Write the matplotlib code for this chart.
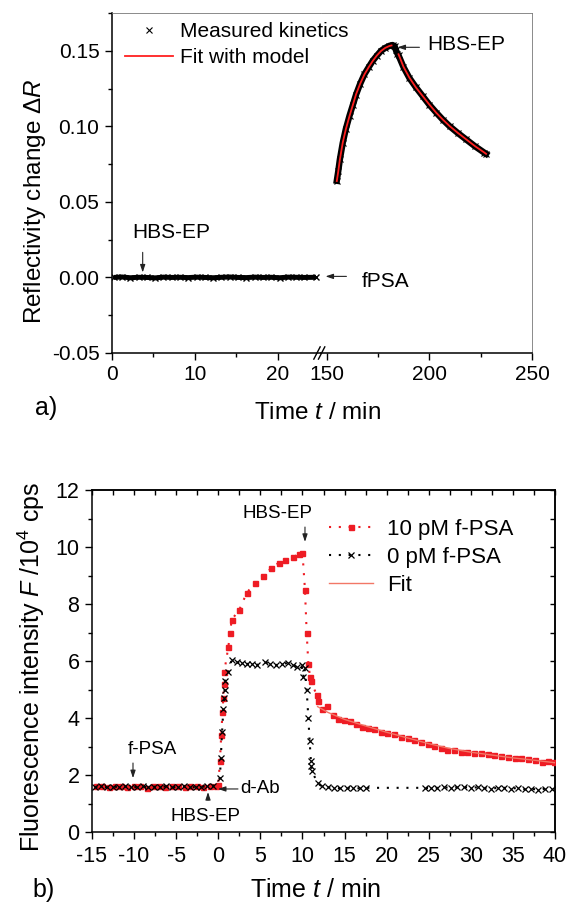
import matplotlib
matplotlib.use("Agg")
import matplotlib.pyplot as plt
from matplotlib.ticker import FixedLocator, MultipleLocator

plt.rcParams["font.family"] = ["Liberation Sans", "DejaVu Sans"]
plt.rcParams["mathtext.fontset"] = "custom"
plt.rcParams["mathtext.rm"] = "Liberation Sans"
plt.rcParams["mathtext.it"] = "Liberation Sans:italic"
plt.rcParams["axes.unicode_minus"] = False

W, H = 568, 905

# ---- panel a: SPR kinetics (time in min, reflectivity change) ----
buffer_t = [0.2, 1.2, 2.2, 3.2, 4.2, 5.2, 6.2, 7.2, 8.2, 9.2, 10.2, 11.2, 12.2,
            13.2, 14.2, 15.2, 16.2, 17.2, 18.2, 19.2, 20.2, 21.2, 22.2, 23.2, 24.6]
buffer_r = [0.0, 0.0003, -0.0002, 0.0001, 0.0, -0.0003, 0.0002, 0.0, 0.0001, -0.0001,
            0.0002, 0.0, -0.0002, 0.0001, 0.0003, 0.0, -0.0001, 0.0002, 0.0, 0.0001,
            -0.0002, 0.0002, 0.0001, 0.0, 0.0001]

kin_t = [154.8, 155.5, 156.3, 157.7, 159.2, 161.0, 162.6, 164.2, 166.2, 168.3, 170.3,
         172.3, 174.3, 176.4, 178.4, 180.5, 182.0, 183.0, 183.6, 184.4, 184.9, 187.3,
         190.2, 193.4, 196.7, 200.0, 203.3, 206.5, 209.8, 213.8, 217.9, 222.3, 226.8, 227.6]
kin_r = [0.0640, 0.0702, 0.0781, 0.0890, 0.0982, 0.1070, 0.1140, 0.1210, 0.1282, 0.1345,
         0.1390, 0.1433, 0.1467, 0.1500, 0.1519, 0.1533, 0.1538, 0.1530, 0.1505, 0.1480,
         0.1470, 0.1393, 0.1320, 0.1258, 0.1200, 0.1142, 0.1091, 0.1044, 0.1001, 0.0956,
         0.0913, 0.0867, 0.0825, 0.0818]

fit_on_t = [154.8, 155.5, 156.3, 157.7, 159.2, 161.0, 162.6, 164.2, 166.2, 168.3,
            170.3, 172.3, 174.3, 176.4, 178.4, 180.5, 181.5]
fit_on_r = [0.0638, 0.0700, 0.0780, 0.0892, 0.0980, 0.1068, 0.1140, 0.1212, 0.1282,
            0.1344, 0.1390, 0.1432, 0.1468, 0.1499, 0.1519, 0.1532, 0.1535]
fit_off_t = [184.9, 187.3, 190.2, 193.4, 196.7, 200.0, 203.3, 206.5, 209.8, 213.8,
             217.9, 222.3, 226.8, 227.6]
fit_off_r = [0.1477, 0.1395, 0.1322, 0.1257, 0.1200, 0.1143, 0.1090, 0.1045, 0.1002,
             0.0957, 0.0914, 0.0868, 0.0826, 0.0818]

# ---- panel b: fluorescence (time in min, F in 10^4 cps) ----
pm10_t = [-14.5, -13.8, -13.0, -12.3, -11.5, -10.8, -10.0, -9.3, -8.5, -7.8, -7.0,
          -6.3, -5.5, -4.8, -4.0, -3.3, -2.5, -1.8, -1.0, -0.3, 0.0, 0.2, 0.35, 0.5,
          0.6, 0.65, 0.7, 1.2, 1.4, 1.6, 2.5, 3.4, 4.4, 5.3, 6.3, 7.2, 7.9, 8.9, 9.6,
          10.0, 10.3, 10.5, 10.7, 10.9, 11.0, 11.7, 11.9, 12.3, 12.9, 13.6, 14.2, 14.9,
          15.6, 16.4, 17.1, 17.8, 18.5, 19.3, 20.1, 20.9, 21.7, 22.5, 23.3, 24.1, 24.9,
          25.6, 26.4, 27.2, 28.0, 28.8, 29.6, 30.4, 31.2, 32.0, 32.8, 33.6, 34.4, 35.2,
          36.0, 36.8, 37.6, 38.4, 39.2, 39.9]
pm10_f = [1.60, 1.62, 1.58, 1.63, 1.60, 1.57, 1.62, 1.60, 1.56, 1.61, 1.63, 1.58,
          1.60, 1.62, 1.57, 1.60, 1.63, 1.59, 1.61, 1.60, 1.65, 2.50, 3.40, 4.20, 4.70,
          5.20, 5.60, 6.50, 7.00, 7.45, 7.80, 8.40, 8.75, 9.00, 9.25, 9.45, 9.55, 9.65,
          9.75, 9.80, 8.50, 7.00, 5.90, 5.45, 5.30, 4.80, 4.60, 4.30, 4.42, 4.10, 3.95,
          3.93, 3.90, 3.78, 3.70, 3.66, 3.62, 3.50, 3.47, 3.44, 3.35, 3.30, 3.22, 3.17,
          3.08, 3.02, 2.95, 2.88, 2.86, 2.81, 2.80, 2.78, 2.77, 2.75, 2.70, 2.65, 2.64,
          2.60, 2.61, 2.55, 2.52, 2.47, 2.48, 2.45]

pm0_t = [-14.6, -13.9, -13.2, -12.5, -11.8, -11.1, -10.4, -9.7, -9.0, -8.3, -7.6,
         -6.9, -6.2, -5.5, -4.8, -4.1, -3.4, -2.7, -2.0, -1.3, -0.6, 0.2, 0.3, 0.45,
         0.6, 0.7, 0.75, 0.8, 1.2, 1.6, 2.2, 2.8, 3.4, 4.0, 4.6, 5.5, 6.2, 6.9, 7.6,
         8.3, 8.9, 9.3, 9.9, 10.1, 10.25, 10.5, 10.7, 10.85, 11.0, 11.05, 11.1, 11.8,
         12.3, 13.0, 13.8, 14.5, 15.3, 16.0, 16.8, 17.6, 24.6, 25.3, 26.0, 26.8, 27.6,
         28.4, 29.2, 30.0, 30.8, 31.6, 32.4, 33.2, 34.0, 34.8, 35.6, 36.4, 37.2, 38.0,
         38.8, 39.6]
pm0_f = [1.58, 1.60, 1.57, 1.59, 1.58, 1.60, 1.57, 1.58, 1.60, 1.57, 1.59, 1.58,
         1.60, 1.57, 1.58, 1.60, 1.58, 1.57, 1.59, 1.60, 1.62, 1.90, 2.60, 3.50, 4.30,
         4.70, 5.00, 5.30, 5.60, 6.05, 5.95, 5.93, 5.90, 5.90, 5.86, 5.96, 5.88, 5.86,
         5.90, 5.93, 5.85, 5.79, 5.85, 5.45, 5.75, 5.00, 4.00, 3.20, 2.50, 2.30, 2.15,
         1.72, 1.60, 1.57, 1.55, 1.53, 1.55, 1.55, 1.53, 1.55, 1.55, 1.53, 1.55, 1.57,
         1.55, 1.57, 1.58, 1.55, 1.57, 1.55, 1.52, 1.55, 1.55, 1.52, 1.55, 1.50, 1.52,
         1.48, 1.52, 1.50]

fit_b_t = [11.8, 13.0, 15.0, 17.5, 20.0, 22.5, 25.0, 27.5, 30.0, 32.5, 35.0, 37.5, 40.0]
fit_b_f = [4.40, 4.20, 3.95, 3.72, 3.50, 3.30, 3.10, 2.93, 2.80, 2.70, 2.60, 2.52, 2.43]

RED = "#ee1c24"
FIT_RED = "#f27766"


def box(left, top, right, bottom):
    return [left / W, 1 - bottom / H, (right - left) / W, (bottom - top) / H]


def fx(px):
    return px / W


def fy(py):
    return 1 - py / H


fig = plt.figure(figsize=(W / 100, H / 100), dpi=100)

# ---------------- panel a ----------------
ax_l = fig.add_axes(box(112, 13, 321, 353))
ax_r = fig.add_axes(box(321, 13, 532, 353), sharey=ax_l)

ax_l.set_xlim(0, 25.2)
ax_r.set_xlim(147.1, 250)
ax_l.set_ylim(-0.05, 0.175)

for ax in (ax_l, ax_r):
    ax.spines["bottom"].set_linewidth(1.1)
    ax.spines["top"].set_linewidth(0.6)
    ax.spines["top"].set_color("#777777")
    ax.tick_params(which="both", direction="out", top=False, right=False,
                   labelsize=15, width=1.0, pad=4)
    ax.tick_params(which="major", length=5)
    ax.tick_params(which="minor", length=3)
ax_l.spines["right"].set_visible(False)
ax_l.spines["left"].set_linewidth(1.1)
ax_r.spines["left"].set_visible(False)
ax_r.spines["right"].set_linewidth(0.6)
ax_r.spines["right"].set_color("#777777")
ax_r.tick_params(axis="y", which="both", left=False, labelleft=False)

ax_l.xaxis.set_major_locator(FixedLocator([0, 10, 20]))
ax_l.xaxis.set_minor_locator(FixedLocator([5, 15]))
ax_r.xaxis.set_major_locator(FixedLocator([150, 200, 250]))
ax_r.xaxis.set_minor_locator(FixedLocator([175, 225]))
ax_l.yaxis.set_major_locator(MultipleLocator(0.05))
ax_l.yaxis.set_minor_locator(MultipleLocator(0.025))
ax_l.yaxis.set_major_formatter(matplotlib.ticker.FormatStrFormatter("%.2f"))

ax_l.plot(buffer_t, buffer_r, color="black", lw=3.6, solid_capstyle="butt", zorder=2)
ax_l.plot(buffer_t, buffer_r, ls="none", marker="x", ms=4, mew=1, color="black", zorder=3)

ax_r.plot(kin_t, kin_r, color="black", lw=4.6, solid_joinstyle="round", zorder=2)
meas, = ax_r.plot(kin_t, kin_r, ls="none", marker="x", ms=4, mew=0.8, color="black",
                  zorder=3, label="Measured kinetics")
fit_a, = ax_r.plot(fit_on_t, fit_on_r, color="#ff2020", lw=1.3, zorder=4,
                   label="Fit with model")
ax_r.plot(fit_off_t, fit_off_r, color="#ff2020", lw=1.3, zorder=4)

# axis break marks
for dx in (-0.022, 0.0):
    ax_r.plot([dx - 0.012, dx + 0.018], [-0.018, 0.018], transform=ax_r.transAxes,
              color="black", lw=1.0, clip_on=False, zorder=5)

arrow = dict(arrowstyle="-|>,head_length=0.45,head_width=0.15", color="#222222", lw=0.8,
             shrinkA=0, shrinkB=0)
ax_l.text(7.2, 0.0298, "HBS-EP", fontsize=15, ha="center", va="center")
ax_l.annotate("", xy=(3.7, 0.0033), xytext=(3.7, 0.0166), arrowprops=arrow)
ax_r.annotate("", xy=(149.3, 0.0007), xytext=(159.5, 0.0007), arrowprops=arrow,
              annotation_clip=False)
ax_r.text(166.8, -0.0026, "fPSA", fontsize=15, ha="left", va="center")
ax_r.annotate("", xy=(184.4, 0.1523), xytext=(195.1, 0.1523), arrowprops=arrow)
ax_r.text(199.0, 0.1543, "HBS-EP", fontsize=15, ha="left", va="center")

ax_r.legend([meas, fit_a], ["Measured kinetics", "Fit with model"], loc="upper left",
            bbox_to_anchor=(fx(125), fy(22)), bbox_transform=fig.transFigure,
            frameon=False, borderpad=0, borderaxespad=0, handlelength=2.3,
            handletextpad=0.35, labelspacing=0.35, fontsize=15)

fig.text(fx(35), fy(201), r"Reflectivity change $\Delta R$", rotation=90,
         ha="center", va="center", fontsize=17.5)
fig.text(fx(318), fy(419), r"Time $t$ / min", ha="center", va="baseline", fontsize=17.5)
fig.text(fx(35), fy(415), "a)", ha="left", va="baseline", fontsize=18)

# ---------------- panel b ----------------
axb = fig.add_axes(box(92, 490, 555, 832))
axb.set_xlim(-15, 40)
axb.set_ylim(0, 12)
for side in ("left", "bottom", "top", "right"):
    axb.spines[side].set_linewidth(1.1)
axb.xaxis.set_major_locator(MultipleLocator(5))
axb.xaxis.set_minor_locator(MultipleLocator(2.5))
axb.yaxis.set_major_locator(MultipleLocator(2))
axb.yaxis.set_minor_locator(MultipleLocator(1))
axb.tick_params(which="both", direction="out", top=False, right=False,
                labelsize=15.5, width=1.0)
axb.tick_params(which="major", length=5)
axb.tick_params(which="minor", length=3)
axb.tick_params(axis="x", pad=5)
axb.tick_params(axis="y", pad=4)

secx = axb.secondary_xaxis("top")
secx.set_xticks([-15 + 2.5 * i for i in range(23)])
secx.tick_params(direction="in", length=3.6, width=1.0, labeltop=False)
secx.spines["top"].set_linewidth(1.1)
secy = axb.secondary_yaxis("right")
secy.set_yticks(list(range(13)))
secy.tick_params(direction="in", length=3.6, width=1.0, labelright=False)
secy.spines["right"].set_linewidth(1.1)

dots = (0, (1, 3.7))
axb.plot(pm10_t, pm10_f, color=RED, ls=dots, lw=1.5, marker="s", ms=3.6,
         mec=RED, mfc=RED, label="10 pM f-PSA", zorder=3)
axb.plot(pm0_t, pm0_f, color="black", ls=dots, lw=1.5, marker="x", ms=4, mew=0.9,
         label="0 pM f-PSA", zorder=4)
axb.plot(fit_b_t, fit_b_f, color=FIT_RED, lw=1.0, label="Fit", zorder=5)

axb.legend(loc="upper left", bbox_to_anchor=(fx(329), fy(519)),
           bbox_transform=fig.transFigure, frameon=False, borderpad=0,
           borderaxespad=0, handlelength=2.0, handletextpad=0.6, labelspacing=0.32,
           fontsize=16)

axb.text(7.03, 11.19, "HBS-EP", fontsize=13.5, ha="center", va="center")
axb.annotate("", xy=(10.3, 10.18), xytext=(10.3, 10.7), arrowprops=arrow)
axb.text(-7.87, 2.88, "f-PSA", fontsize=13.5, ha="center", va="center")
axb.annotate("", xy=(-10.13, 1.89), xytext=(-10.13, 2.42), arrowprops=arrow)
axb.text(-1.46, 0.53, "HBS-EP", fontsize=13.5, ha="center", va="center")
axb.annotate("", xy=(-1.22, 1.40), xytext=(-1.22, 1.12), arrowprops=arrow)
axb.text(2.58, 1.51, "d-Ab", fontsize=13.5, ha="left", va="center")
axb.annotate("", xy=(-0.04, 1.51), xytext=(2.34, 1.51), arrowprops=arrow)

fig.text(fx(31), fy(667), r"Fluorescence intensity $F$ /10$^4$ cps", rotation=90,
         ha="center", va="center", fontsize=18)
fig.text(fx(316), fy(897), r"Time $t$ / min", ha="center", va="baseline", fontsize=18)
fig.text(fx(32), fy(897), "b)", ha="left", va="baseline", fontsize=18)

fig.savefig("out.png", dpi=100)
